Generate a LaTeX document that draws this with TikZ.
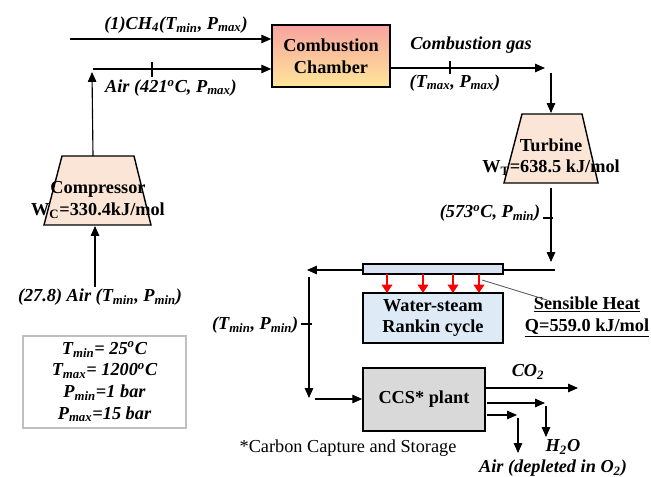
\documentclass[tikz,border=0pt]{standalone}
\usepackage{fontspec}
\setmainfont{Liberation Serif}
\usepackage{tikz}
\usetikzlibrary{arrows.meta, positioning, calc}

\definecolor{peach}{HTML}{FBE5D6}
\definecolor{lightsteel}{HTML}{DEEBF7}
\definecolor{stripblue}{HTML}{DAE3F3}
\definecolor{ccsgray}{HTML}{D9D9D9}
\definecolor{cctop}{HTML}{F7A3A0}
\definecolor{ccbot}{HTML}{FFE699}

\begin{document}
\begin{tikzpicture}[x=0.025cm, y=-0.025cm, >={Triangle[length=7pt,width=6pt]},
  every node/.style={font=\fontsize{13}{15.5}\selectfont},
  lbl/.style={font=\fontsize{13}{15.5}\selectfont\bfseries\itshape, inner sep=1pt},
  box/.style={draw, line width=1.1pt, align=center, inner sep=0pt,
    font=\fontsize{13}{15.5}\selectfont\bfseries},
  machine/.style={draw, line width=1pt, fill=peach},
  flow/.style={->, line width=0.8pt},
  heat/.style={->, red, line width=2pt, >={Triangle[length=6pt,width=7.5pt]}}]
  \useasboundingbox (0,0) rectangle (651,477);

  % Combustion chamber
  \node[box, top color=cctop, bottom color=ccbot, minimum width=2.95cm, minimum height=1.55cm]
    (cc) at (331,56) {Combustion\\Chamber};
  \coordinate (ch4in) at (70,39);
  \coordinate (airin) at (93,69);
  \draw[flow] (ch4in) -- (ch4in -| cc.west);
  \draw[flow] (airin) -- (airin -| cc.west);
  \draw[line width=0.8pt] (152,62) -- (152,77); % tick
  \node[lbl] (ch4lbl) at (176,25) {(1)CH\textsubscript{4}(T\textsubscript{min}, P\textsubscript{max})};
  \node[lbl] (airlbl) at (171,88) {Air (421\textsuperscript{o}C, P\textsubscript{max})};

  % Combustion gas
  \coordinate (gasout) at (cc.east |- 0,68);
  \coordinate (gasend) at (545,68);
  \draw[flow] (gasout) -- (gasend);
  \draw[line width=0.8pt] (450,61) -- (450,74); % tick
  \node[lbl] (gaslbl) at (471,45) {Combustion gas};
  \node[lbl] (gasstate) at (455,83) {(T\textsubscript{max}, P\textsubscript{max})};

  % Turbine
  \draw[machine] (522,114) -- (582,114) -- (598,183) -- (504,183) -- cycle;
  \coordinate (turbtop) at (551,113);
  \coordinate (turbdown) at (551,73);
  \node[align=center, font=\fontsize{13}{15.5}\selectfont\bfseries] (turb) at (551,157)
    {Turbine\\W\textsubscript{T}=638.5 kJ/mol};
  \draw[flow] (turbdown) -- (turbtop);

  % Turbine exhaust
  \coordinate (exhtop) at (551,188);
  \coordinate (exhend) at (551,262);
  \draw[flow] (exhtop) -- (exhend);
  \draw[line width=0.8pt] (543,218) -- (553,218); % tick
  \node[lbl, anchor=east] (exhlbl) at (542,213) {(573\textsuperscript{o}C, P\textsubscript{min})};

  % Heat recovery
  \coordinate (hrin) at (555,270);
  \coordinate (hrout) at (307,270);
  \draw[flow] (hrin) -- (hrout);
  \node[draw, line width=0.9pt, fill=stripblue, minimum width=3.5cm, minimum height=0.25cm,
    inner sep=0pt] (strip) at (433,269) {};
  \node[box, fill=lightsteel, minimum width=3.5cm, minimum height=1.25cm]
    (rankin) at (433,318) {Water-steam\\Rankin cycle};
  \foreach \x in {387,423,453,479}
    \draw[heat] (\x,274) -- (\x,293);
  \node[align=center, font=\fontsize{13}{15.5}\selectfont\bfseries] (sens) at (587,317)
    {\underline{Sensible Heat}\\\underline{Q=559.0 kJ/mol}};
  \draw[line width=0.6pt, gray!70!black] (482,280) -- (547,300);

  % To CCS
  \coordinate (ccsdowntop) at (309,277);
  \coordinate (ccsdown) at (309,398);
  \draw[flow] (ccsdowntop) -- (ccsdown);
  \draw[line width=0.8pt] (301,324) -- (312,324); % tick
  \node[lbl, anchor=east] (ccsinlbl) at (300,325) {(T\textsubscript{min}, P\textsubscript{min})};
  \node[box, fill=ccsgray, minimum width=3.05cm, minimum height=1.575cm]
    (ccs) at (424,399.5) {CCS* plant};
  \coordinate (ccsin) at (315,399);
  \draw[flow] (ccsin) -- (ccsin -| ccs.west);

  % CCS products
  \coordinate (co2out) at (ccs.east |- 0,388);
  \coordinate (co2end) at (578,388);
  \draw[flow] (co2out) -- (co2end);
  \node[lbl] (co2lbl) at (528,372) {CO\textsubscript{2}};
  \coordinate (h2oout) at (487,403);
  \coordinate (h2oturn) at (545,403);
  \coordinate (h2oend) at (546,437);
  \draw[flow] (h2oout) -- (h2oturn);
  \draw[flow] (546,406) -- (h2oend);
  \node[lbl] (h2olbl) at (563,447) {H\textsubscript{2}O};
  \coordinate (airout) at (487,415);
  \coordinate (airturn) at (517,415);
  \coordinate (airend) at (518,453);
  \draw[flow] (airout) -- (airturn);
  \draw[flow] (518,418) -- (airend);
  \node[lbl] (deplbl) at (553,468) {Air (depleted in O\textsubscript{2})};
  \node (ccsnote) at (348,448) {*Carbon Capture and Storage};

  % Compressor
  \draw[machine] (62,156) -- (134,156) -- (151,225) -- (44,225) -- cycle;
  \coordinate (comptop) at (93,156);
  \coordinate (compbot) at (95,226);
  \coordinate (airup) at (92,72);
  \coordinate (airfeed) at (95,287);
  \node[align=center, font=\fontsize{13}{15.5}\selectfont\bfseries] (comp) at (98,200)
    {Compressor\\W\textsubscript{C}=330.4kJ/mol};
  \draw[flow] (comptop) -- (airup);
  \draw[flow] (airfeed) -- (compbot);
  \node[lbl] (feedlbl) at (100,297) {(27.8) Air (T\textsubscript{min}, P\textsubscript{min})};

  % Legend
  \node[draw=gray!50, line width=0.8pt, align=center, minimum width=4.075cm, minimum height=2.3cm,
    font=\fontsize{13}{15.5}\selectfont\bfseries\itshape] (legend) at (104.5,382)
    {T\textsubscript{min}= 25\textsuperscript{o}C\\T\textsubscript{max}= 1200\textsuperscript{o}C\\
     P\textsubscript{min}=1 bar\\P\textsubscript{max}=15 bar};
\end{tikzpicture}
\end{document}
